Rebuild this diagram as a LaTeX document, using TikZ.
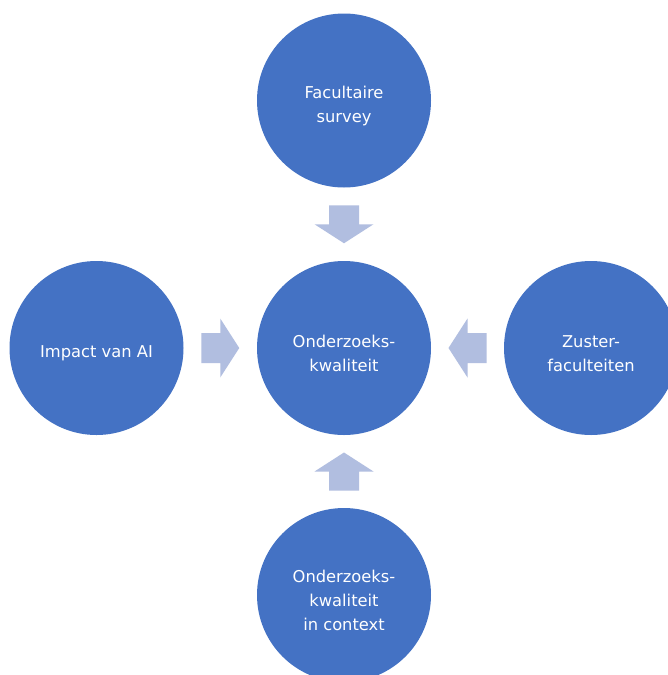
\documentclass[tikz,border=0pt]{standalone}
\usepackage{fontspec}
\setmainfont{DejaVu Sans}
\usetikzlibrary{calc}
\definecolor{circblue}{HTML}{4472C4}
\definecolor{arrowblue}{HTML}{B1BEE0}
\tikzset{
  bubble/.style={circle, fill=circblue, draw=none, minimum size=174pt, inner sep=0pt},
  bubbletext/.style={text=white, align=center, inner sep=0pt,
    font=\fontsize{16.3}{24}\selectfont},
  arrowfill/.style={fill=arrowblue, draw=none}
}
\newcommand\blockarrow[3]{%
  \path ($(#1.center)!0.5!(#2.center)$) coordinate (m-#1);
  \fill[arrowfill, shift={(m-#1)}, rotate=#3]
    (-19,-15) -- (0,-15) -- (0,-29.5) -- (19,0) -- (0,29.5) -- (0,15) -- (-19,15) -- cycle;
}
\newcommand\bubbletextat[2]{%
  \node[bubbletext] (#1-text) at ([yshift=-5.5pt]#1.center) {#2};
}
\begin{document}
\begin{tikzpicture}[x=1pt,y=-1pt]
  \clip (0,0) rectangle (668,675);
  \fill[white] (0,0) rectangle (668,675);
  \node[bubble] (c) at (344,348) {};
  \node[bubble] (t) at (344,100.5) {};
  \node[bubble] (l) at (96.5,348) {};
  \node[bubble] (r) at (591,348) {};
  \node[bubble] (b) at (344,595) {};
  \bubbletextat{c}{Onderzoeks-\\kwaliteit}
  \bubbletextat{t}{Facultaire\\survey}
  \bubbletextat{l}{Impact van AI}
  \bubbletextat{r}{Zuster-\\faculteiten}
  \bubbletextat{b}{Onderzoeks-\\kwaliteit\\in context}
  \blockarrow{t}{c}{-90}
  \blockarrow{l}{c}{0}
  \blockarrow{r}{c}{180}
  \blockarrow{b}{c}{90}
\end{tikzpicture}
\end{document}
